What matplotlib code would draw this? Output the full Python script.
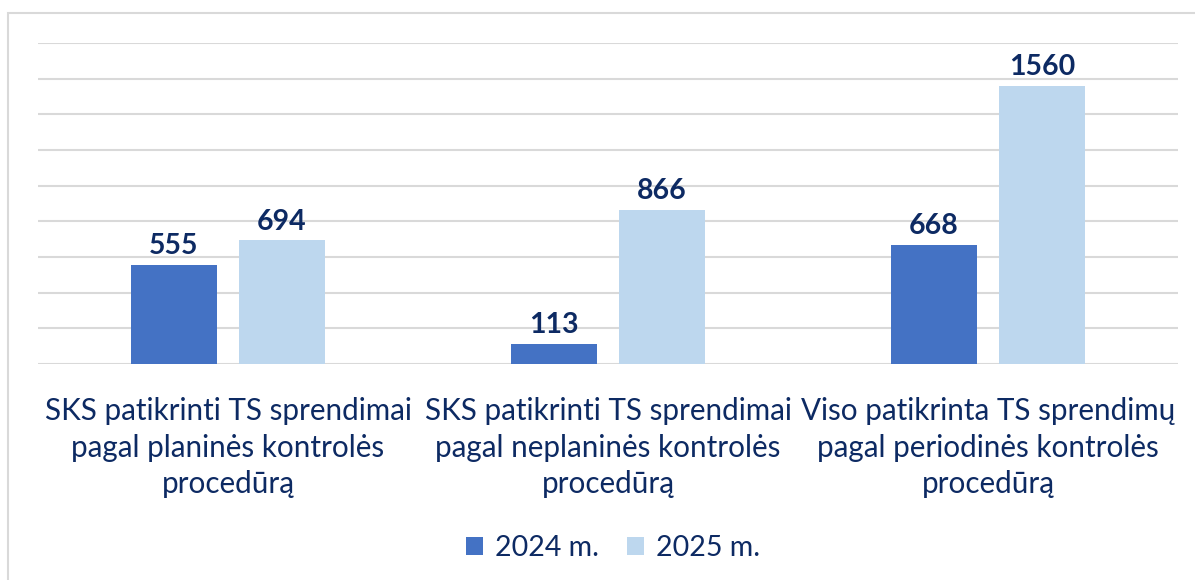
import matplotlib
matplotlib.use("Agg")
import matplotlib.pyplot as plt
from matplotlib.patches import Rectangle
import numpy as np

categories = [
    "SKS patikrinti TS sprendimai\npagal planinės kontrolės\nprocedūrą",
    "SKS patikrinti TS sprendimai\npagal neplaninės kontrolės\nprocedūrą",
    "Viso patikrinta TS sprendimų\npagal periodinės kontrolės\nprocedūrą",
]
series_names = ["2024 m.", "2025 m."]
values_2024 = [555, 113, 668]
values_2025 = [694, 866, 1560]

c2024 = "#4472C4"
c2025 = "#BDD7EE"
navy = "#0D2A63"
grid = "#D9D9D9"

plt.rcParams['font.family'] = ['Lato', 'DejaVu Sans']

fig = plt.figure(figsize=(11.95, 5.8), dpi=100)
fig.patches.append(Rectangle((8/1195, -0.1), 1.2, 1 - 13/580 + 0.1, transform=fig.transFigure,
                             fill=False, edgecolor="#D9D9D9", linewidth=1.5))

ax = fig.add_axes([38/1195, 1 - 364/580, 1140/1195, (364 - 43)/580])
x = np.arange(len(categories))
w = 0.224
off = 0.142
b1 = ax.bar(x - off, values_2024, w, color=c2024, label=series_names[0], zorder=3)
b2 = ax.bar(x + off, values_2025, w, color=c2025, label=series_names[1], zorder=3)
for bars in (b1, b2):
    ax.bar_label(bars, padding=4, fontsize=20.5, fontweight='bold', color=navy)

ax.set_xlim(-0.5, 2.5)
ax.set_ylim(0, 1800)
ax.set_yticks(np.arange(0, 1801, 200))
ax.yaxis.grid(True, color=grid, linewidth=1.5, zorder=0)
ax.tick_params(axis='y', left=False, labelleft=False)
ax.tick_params(axis='x', length=0, pad=24)
ax.set_xticks(x)
ax.set_xticklabels(categories, fontsize=21.3, color=navy, linespacing=1.36)
for s in ax.spines.values():
    s.set_visible(False)

fig.legend(handles=[b1, b2], labels=series_names, loc='center', bbox_to_anchor=(613/1195, 1 - 548/580),
           ncol=2, frameon=False, fontsize=20.5, labelcolor=navy, handlelength=0.6, handleheight=0.6,
           handletextpad=0.4, columnspacing=1.0)

fig.savefig("out.png", dpi=100)
